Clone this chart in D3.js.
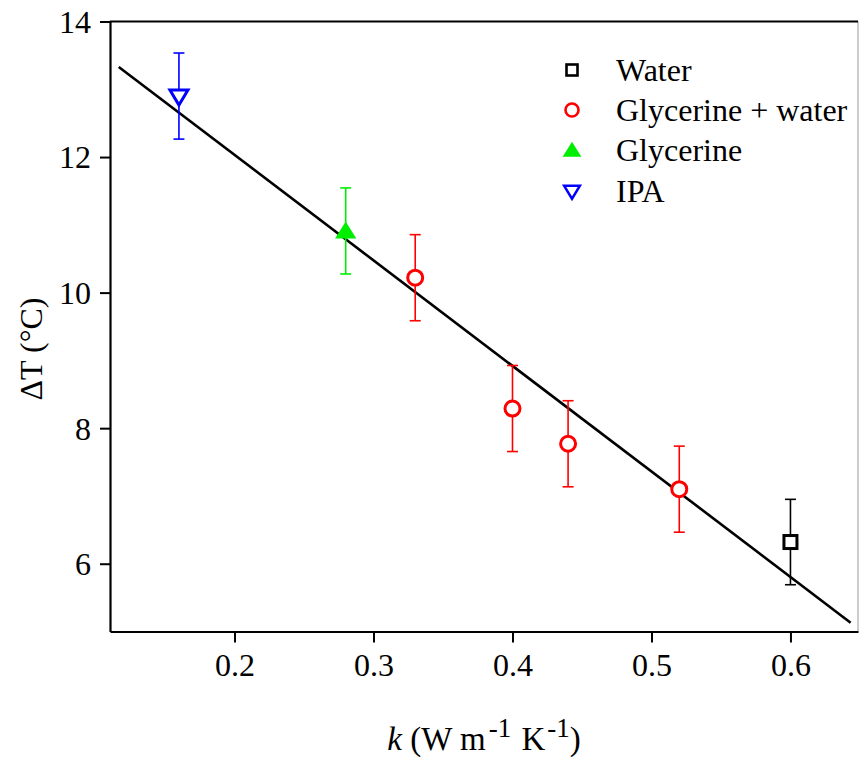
<!DOCTYPE html>
<html><head><meta charset="utf-8">
<script src="https://cdn.jsdelivr.net/npm/d3@7"></script>
<style>body{margin:0;background:#fff}svg{display:block}</style>
</head><body><svg id="c" width="859" height="760"></svg>
<script>
// Data
const seriesNames = ["Water", "Glycerine + water", "Glycerine", "IPA"];
const seriesColors = ["#000000", "#ff0000", "#00ee00", "#0000ff"];
const seriesSymbols = ["square", "circle", "triangleUp", "triangleDown"];
const waterK = [0.60];
const waterDT = [6.32];
const waterErr = [0.63];
const mixK = [0.33, 0.40, 0.44, 0.52];
const mixDT = [10.22, 8.29, 7.77, 7.10];
const mixErr = [0.635, 0.635, 0.635, 0.635];
const glyK = [0.28];
const glyDT = [10.91];
const glyErr = [0.635];
const ipaK = [0.16];
const ipaDT = [12.90];
const ipaErr = [0.635];
const fitK = [0.1167, 0.6433];
const fitDT = [13.33, 5.13];
const xTicks = [0.2, 0.3, 0.4, 0.5, 0.6];
const yTicks = [6, 8, 10, 12, 14];

const FONT = "'Liberation Serif'";
const svg = d3.select("#c");
const L = 110, R = 858, T = 21.5, B = 631.5;
const x = d3.scaleLinear().domain([0.1104, 0.6486]).range([L, R]);
const y = d3.scaleLinear().domain([5, 14]).range([B, T]);

// frame
svg.append("line").attr("x1", R).attr("x2", R).attr("y1", T).attr("y2", B).attr("stroke", "#999").attr("stroke-width", 1);
svg.append("line").attr("x1", L).attr("x2", R).attr("y1", T).attr("y2", T).attr("stroke", "#000").attr("stroke-width", 2.2);

const xa = svg.append("g").attr("transform", `translate(0,${B})`)
  .call(d3.axisBottom(x).tickValues(xTicks).tickFormat(d3.format(".1f")).tickSizeInner(11).tickSizeOuter(0).tickPadding(10));
const ya = svg.append("g").attr("transform", `translate(${L},0)`)
  .call(d3.axisLeft(y).tickValues(yTicks).tickFormat(d3.format("d")).tickSizeInner(10).tickSizeOuter(0).tickPadding(9));
[xa, ya].forEach(a => {
  a.attr("font-family", null).attr("font-size", null);
  a.select(".domain").attr("stroke", "#000").attr("stroke-width", 2.2);
  a.selectAll(".tick line").attr("stroke", "#000").attr("stroke-width", 2);
  a.selectAll(".tick text").style("font-family", FONT).style("font-size", "32px").attr("fill", "#000");
});
ya.selectAll(".tick text").attr("dy", "0.34em");
xa.selectAll(".tick text").attr("dy", "0.72em");

// axis titles
const xt = svg.append("text").attr("x", 484).attr("y", 750).attr("text-anchor", "middle")
  .style("font-family", FONT).style("font-size", "33px");
xt.append("tspan").style("font-style", "italic").text("k");
xt.append("tspan").text(" (W m");
xt.append("tspan").attr("dx", 3).attr("dy", -13).style("font-size", "27px").text("-1");
xt.append("tspan").attr("dx", 2).attr("dy", 13).text(" K");
xt.append("tspan").attr("dx", 2).attr("dy", -13).style("font-size", "27px").text("-1");
xt.append("tspan").attr("dy", 13).text(")");

svg.append("text").attr("transform", "translate(42,349) rotate(-90)").attr("text-anchor", "middle")
  .style("font-family", FONT).style("font-size", "32px").text("ΔT (°C)");

// fit line
svg.append("line").attr("x1", x(fitK[0])).attr("y1", y(fitDT[0])).attr("x2", x(fitK[1])).attr("y2", y(fitDT[1]))
  .attr("stroke", "#000").attr("stroke-width", 2.6);

function marker(g, sym, cx, cy, color, s, sw) {
  if (sym === "square") {
    g.append("rect").attr("x", cx - s / 2).attr("y", cy - s / 2).attr("width", s).attr("height", s)
      .attr("fill", "#fff").attr("stroke", color).attr("stroke-width", sw);
  } else if (sym === "circle") {
    g.append("circle").attr("cx", cx).attr("cy", cy).attr("r", s / 2).attr("fill", "#fff").attr("stroke", color).attr("stroke-width", sw);
  } else if (sym === "triangleUp") {
    const w = s * 1.25, h = s;
    g.append("path").attr("d", `M${cx},${cy - h * 0.55}L${cx + w / 2},${cy + h * 0.45}L${cx - w / 2},${cy + h * 0.45}Z`).attr("fill", color);
  } else {
    const w = s * 1.2, h = s;
    g.append("path").attr("d", `M${cx - w / 2},${cy - h * 0.4}L${cx + w / 2},${cy - h * 0.4}L${cx},${cy + h * 0.6}Z`)
      .attr("fill", "#fff").attr("stroke", color).attr("stroke-width", sw).attr("stroke-linejoin", "miter");
  }
}

const groups = [
  {k: waterK, v: waterDT, e: waterErr},
  {k: mixK, v: mixDT, e: mixErr},
  {k: glyK, v: glyDT, e: glyErr},
  {k: ipaK, v: ipaDT, e: ipaErr}
];
const markerSize = [13, 15, 17, 15];
groups.forEach((gd, i) => {
  const g = svg.append("g");
  const c = seriesColors[i];
  gd.k.forEach((k, j) => {
    const cx = x(k), v = gd.v[j], e = gd.e[j];
    g.append("line").attr("x1", cx).attr("x2", cx).attr("y1", y(v + e)).attr("y2", y(v - e)).attr("stroke", c).attr("stroke-width", 1.6);
    [v + e, v - e].forEach(t => g.append("line").attr("x1", cx - 5.5).attr("x2", cx + 5.5).attr("y1", y(t)).attr("y2", y(t)).attr("stroke", c).attr("stroke-width", 1.6));
    marker(g, seriesSymbols[i], cx, y(v), c, markerSize[i], 3);
  });
});

// legend
const legY = [70, 110, 150, 191];
const legMs = [11, 13, 15, 13];
seriesNames.forEach((n, i) => {
  const g = svg.append("g");
  marker(g, seriesSymbols[i], 572, legY[i], seriesColors[i], legMs[i], 2.6);
  g.append("text").attr("x", 616).attr("y", legY[i]).attr("dy", "0.35em")
    .style("font-family", FONT).style("font-size", "32px").text(n);
});
</script></body></html>
